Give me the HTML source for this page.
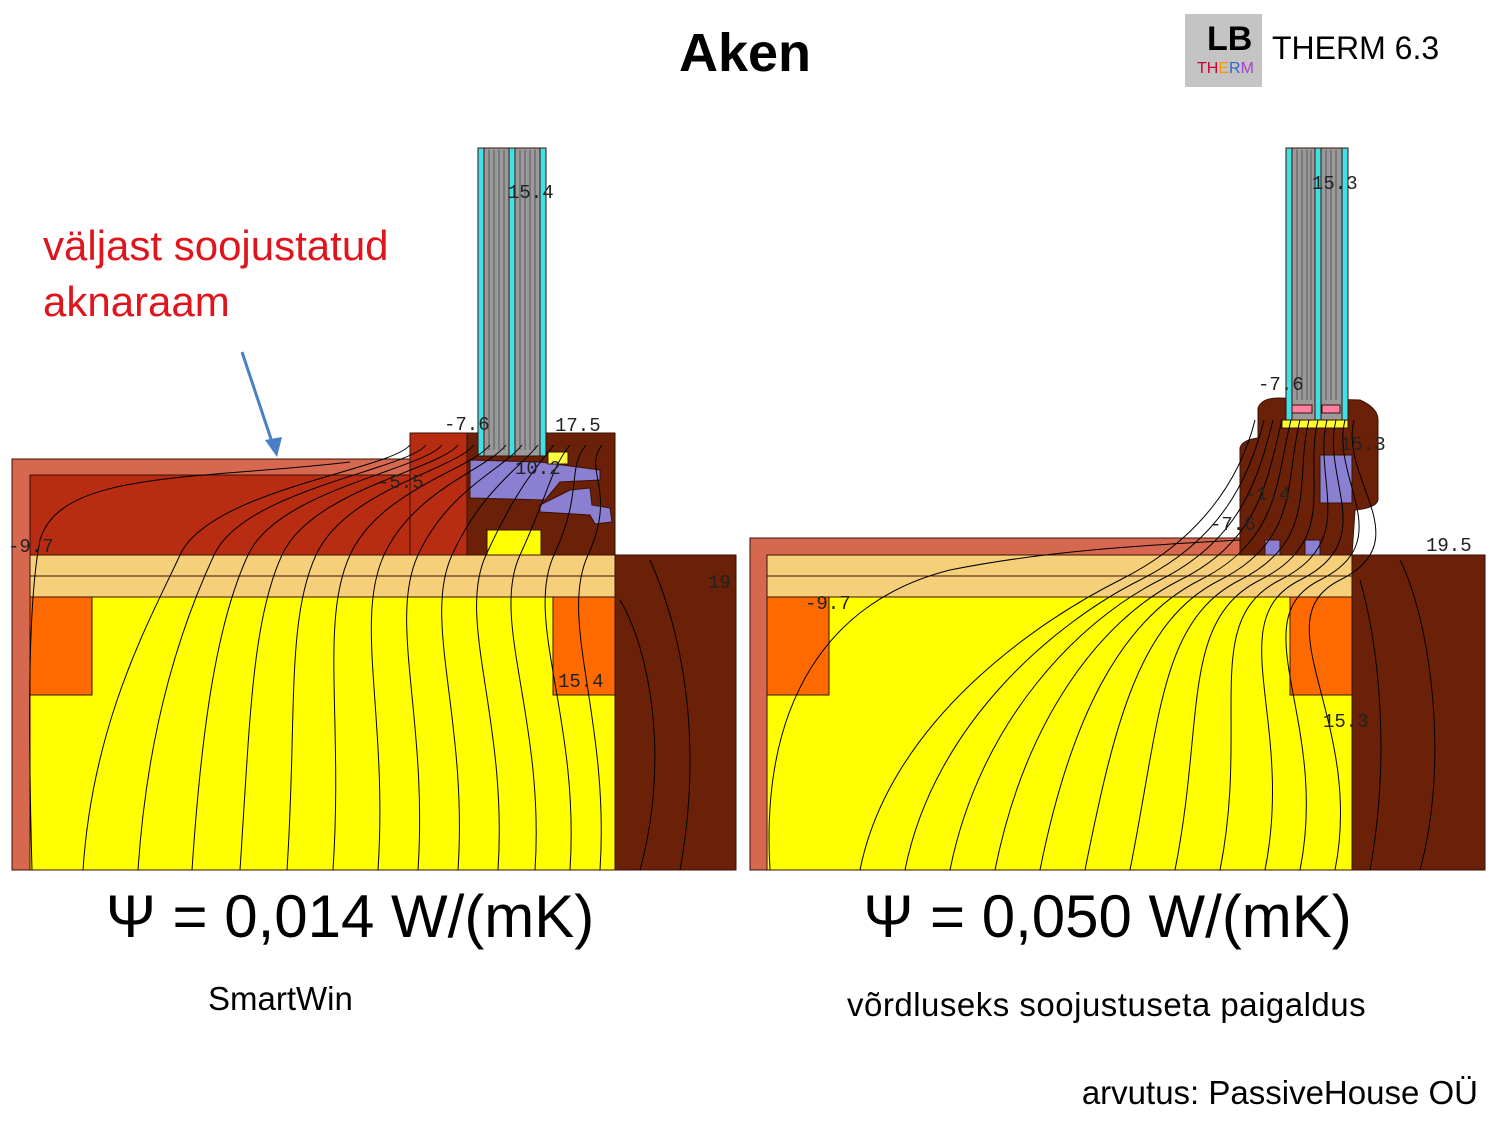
<!DOCTYPE html>
<html><head><meta charset="utf-8"><style>
body{margin:0;width:1500px;height:1125px;background:#fff;overflow:hidden;font-family:"Liberation Sans",sans-serif}
svg{position:absolute;left:0;top:0}
</style></head><body>
<svg width="1500" height="1125" viewBox="0 0 1500 1125">
<g stroke="#3a1005" stroke-width="1">
<rect x="12" y="459" width="400" height="411" fill="#d6684f"/>
<rect x="30" y="475" width="382" height="80" fill="#b82c12"/>
<rect x="410" y="433" width="60" height="122" fill="#b82c12"/>
<rect x="467" y="433" width="148" height="122" fill="#6b2108"/>
<rect x="487" y="530" width="54" height="25" fill="#ffff00"/>
<polygon points="470,460 540,462 600,470 600,480 560,482 545,500 470,498" fill="#8a7fd0"/>
<polygon points="570,490 590,488 592,505 610,508 612,522 595,524 590,515 540,512 540,505" fill="#8a7fd0"/>
<rect x="30" y="555" width="585" height="42" fill="#f6cf7a"/>
<line x1="30" y1="576" x2="615" y2="576"/>
<rect x="30" y="597" width="585" height="273" fill="#ffff00"/>
<rect x="30" y="597" width="62" height="98" fill="#ff6a00"/>
<rect x="553" y="597" width="62" height="98" fill="#ff6a00"/>
<rect x="615" y="555" width="121" height="315" fill="#6b2108"/>
<rect x="478" y="148" width="68" height="308" fill="#9a9a9a"/>
<rect x="478" y="148" width="6" height="308" fill="#40e0e8"/>
<rect x="509" y="148" width="6" height="308" fill="#40e0e8"/>
<rect x="540" y="148" width="6" height="308" fill="#40e0e8"/>
<rect x="548" y="452" width="20" height="12" fill="#ffff40"/>
</g>
<g stroke="#555" stroke-width="1" fill="none">
<line x1="489" y1="150" x2="489" y2="450"/><line x1="494" y1="150" x2="494" y2="450"/><line x1="499" y1="150" x2="499" y2="450"/><line x1="504" y1="150" x2="504" y2="450"/>
<line x1="520" y1="150" x2="520" y2="450"/><line x1="525" y1="150" x2="525" y2="450"/><line x1="530" y1="150" x2="530" y2="450"/><line x1="535" y1="150" x2="535" y2="450"/>
</g>
<g stroke="#3a1005" stroke-width="1">
<rect x="750" y="538" width="495" height="332" fill="#d6684f"/>
<rect x="767" y="555" width="585" height="42" fill="#f6cf7a"/>
<line x1="767" y1="576" x2="1352" y2="576"/>
<rect x="767" y="597" width="585" height="273" fill="#ffff00"/>
<rect x="767" y="597" width="62" height="98" fill="#ff6a00"/>
<rect x="1290" y="597" width="62" height="98" fill="#ff6a00"/>
<rect x="1352" y="555" width="133" height="315" fill="#6b2108"/>
<path d="M1240,555 L1240,448 Q1242,440 1258,438 L1258,408 Q1262,398 1278,398 L1360,400 Q1378,408 1378,420 L1378,500 Q1376,508 1355,510 L1352,555 Z" fill="#6b2108"/>
<rect x="1320" y="455" width="32" height="48" fill="#8a7fd0"/>
<rect x="1265" y="540" width="15" height="15" fill="#8a7fd0"/>
<rect x="1305" y="540" width="15" height="15" fill="#8a7fd0"/>
<rect x="1282" y="420" width="66" height="8" fill="#ffff30"/>
<rect x="1286" y="148" width="62" height="272" fill="#9a9a9a"/>
<rect x="1286" y="148" width="6" height="272" fill="#40e0e8"/>
<rect x="1315" y="148" width="6" height="272" fill="#40e0e8"/>
<rect x="1342" y="148" width="6" height="272" fill="#40e0e8"/>
<rect x="1292" y="405" width="20" height="8" fill="#ff80a0"/>
<rect x="1322" y="405" width="18" height="8" fill="#ff80a0"/>
</g>
<g stroke="#555" stroke-width="1">
<line x1="1297" y1="150" x2="1297" y2="400"/><line x1="1302" y1="150" x2="1302" y2="400"/><line x1="1307" y1="150" x2="1307" y2="400"/><line x1="1311" y1="150" x2="1311" y2="400"/>
<line x1="1326" y1="150" x2="1326" y2="400"/><line x1="1331" y1="150" x2="1331" y2="400"/><line x1="1336" y1="150" x2="1336" y2="400"/>
</g>
<g id="iso" stroke="#000" stroke-width="1" fill="none"></g>
<g font-family="Liberation Mono,monospace" font-size="19" fill="#222">
<text x="508" y="198">15.4</text><text x="444" y="430">-7.6</text><text x="555" y="431">17.5</text>
<text x="378" y="488">-5.5</text><text x="515" y="474">10.2</text><text x="8" y="552">-9.7</text>
<text x="708" y="588">19</text><text x="558" y="687">15.4</text>
<text x="1312" y="189">15.3</text><text x="1258" y="390">-7.6</text><text x="1340" y="450">15.3</text>
<text x="1245" y="500">-1.4</text><text x="1210" y="530">-7.6</text><text x="1426" y="551">19.5</text>
<text x="805" y="609">-9.7</text><text x="1323" y="727">15.3</text>
</g>
<line x1="242" y1="352" x2="273" y2="445" stroke="#4a7fc8" stroke-width="3"/>
<polygon points="277,457 265,440 282,437" fill="#4a7fc8"/>
</svg>
<script>
var g=document.getElementById('iso'),s='';
function p(d){s+='<path d="'+d+'"/>';}
var bx=[83,138,192,240,287,333,378,418,458,498,535,570,600];
for(var i=0;i<bx.length;i++){var b=bx[i];var tx=180+i*34;var fx=410+i*16;
p('M'+b+',870 C'+(b+10)+',720 '+(tx-30)+',620 '+tx+',555 S'+(fx-20)+',470 '+fx+',445');}
p('M32,870 C28,720 28,600 40,540 C60,470 200,480 350,462');
p('M640,870 C670,760 650,650 620,600');p('M680,870 C700,760 690,650 650,560');
var rb=[860,905,950,995,1040,1085,1130,1175,1220,1265,1300,1335];
for(var i=0;i<rb.length;i++){var b=rb[i];var tx=1120+i*20;var fx=1245+i*9;
p('M'+b+',870 C'+(b+30)+',720 '+(tx-80)+',620 '+tx+',580 S'+(fx-5)+',480 '+(fx+10)+',420');}
p('M770,870 C760,700 830,600 950,570 C1050,550 1150,545 1240,540');
p('M1370,870 C1390,760 1380,650 1360,580');p('M1420,870 C1450,760 1430,620 1400,560');
g.innerHTML=s;
</script>
<div style="position:absolute;left:0;width:1490px;top:22px;text-align:center;font-weight:bold;font-size:54px">Aken</div>
<div style="position:absolute;left:1185px;top:14px;width:77px;height:73px;background:#c4c4c4">
<div style="position:absolute;left:22px;top:6px;font-size:34px;font-weight:bold">LB</div>
<div style="position:absolute;left:12px;top:46px;font-size:16px;color:#c03">TH<span style="color:#e90">E</span><span style="color:#36c">R</span><span style="color:#a4c">M</span></div></div>
<div style="position:absolute;left:1272px;top:30px;font-size:32px">THERM 6.3</div>
<div style="position:absolute;left:43px;top:218px;font-size:42px;line-height:56px;color:#e0141c">väljast soojustatud<br>aknaraam</div>
<div style="position:absolute;left:0;width:700px;top:882px;text-align:center;font-size:60px">Ψ = 0,014 W/(mK)</div>
<div style="position:absolute;left:755px;width:705px;top:882px;text-align:center;font-size:60px">Ψ = 0,050 W/(mK)</div>
<div style="position:absolute;left:208px;top:980px;font-size:33px">SmartWin</div>
<div style="position:absolute;left:847px;top:986px;font-size:33px;letter-spacing:0.5px">võrdluseks soojustuseta paigaldus</div>
<div style="position:absolute;right:22px;top:1074px;font-size:33px">arvutus: PassiveHouse OÜ</div>
</body></html>
